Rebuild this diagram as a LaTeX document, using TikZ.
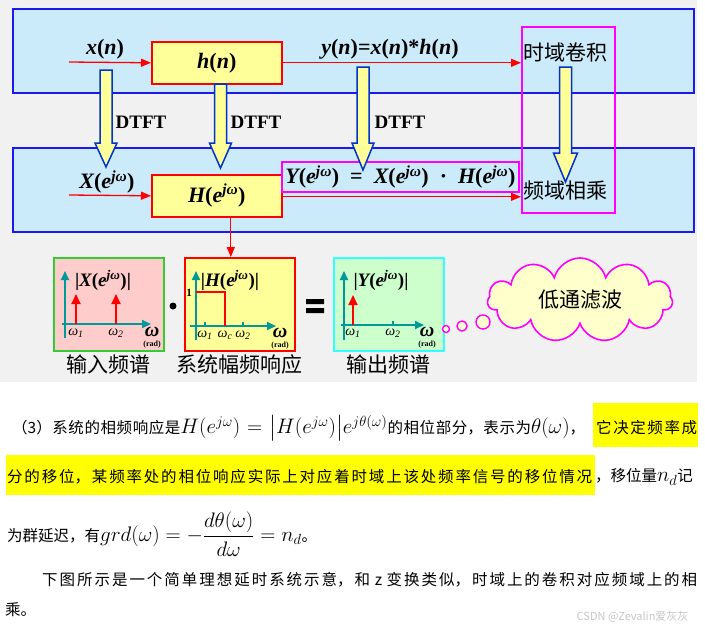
\RequirePackage{fix-cm}
\documentclass[tikz,border=0pt]{standalone}
\usepackage{amsmath}
\usepackage{fontspec}
\setmainfont{Liberation Serif}
\newfontfamily\cjk{Noto Sans CJK SC}
\usetikzlibrary{arrows.meta,shapes.symbols,positioning}
\XeTeXlinebreaklocale "zh"
\XeTeXlinebreakskip=0pt plus 3pt
\definecolor{bandblue}{HTML}{1A1AF0}
\definecolor{bandfill}{HTML}{CCEBFA}
\definecolor{boxyellow}{HTML}{FFFF99}
\definecolor{magbox}{HTML}{FF00FF}
\definecolor{axteal}{HTML}{009999}
\definecolor{inpink}{HTML}{FFCCCC}
\definecolor{ingreen}{HTML}{33CC33}
\definecolor{outgreen}{HTML}{CCFFCC}
\definecolor{outcyan}{HTML}{33FFFF}
\definecolor{cloudfill}{HTML}{FFFFCC}
\definecolor{arrowblue}{HTML}{0033CC}
\definecolor{hiyellow}{HTML}{FFFF00}
\definecolor{bggray}{HTML}{F1F1F1}
\newcommand{\bi}[1]{{\bfseries\itshape #1}}
\newcommand{\ejw}{\bi{e}\textsuperscript{\bi{jω}}}
\newcommand{\eqsz}{\fontsize{21}{24}\selectfont}
% x, top, head start, tip, head half width
\newcommand{\fatarrow}[5]{%
  \draw[fatarr] (#1-6,#2) -- (#1+6,#2) -- (#1+6,#3) -- (#1+#5,#3) -- (#1,#4)
    -- (#1-#5,#3) -- (#1-6,#3) -- cycle;}
\tikzset{
  band/.style={draw=bandblue, fill=bandfill, line width=2.4pt, minimum width=681, minimum height=84, anchor=north west},
  sysbox/.style={draw=red, fill=boxyellow, line width=1.6pt, minimum width=130, minimum height=42, anchor=north west, font=\fontsize{22}{26}\selectfont\bfseries},
  sig/.style={red, line width=1.3pt, -{Triangle[length=10pt,width=8pt]}},
  lbl/.style={font=\fontsize{22}{26}\selectfont\bfseries},
  dtft/.style={font=\fontsize{19}{22}\selectfont\bfseries},
  cjklbl/.style={font=\fontsize{21}{24}\selectfont\cjk, inner sep=1pt},
  fatarr/.style={draw=arrowblue, fill=boxyellow, line width=1.5pt},
  magframe/.style={draw=magbox, line width=1.8pt},
  plotbox/.style={line width=1.8pt, minimum width=110, minimum height=93, anchor=north west},
  axis/.style={axteal, line width=2pt, -{Triangle[length=9pt,width=8pt]}},
  imp/.style={red, line width=1.8pt, -{Triangle[length=10pt,width=9pt]}},
  plab/.style={font=\fontsize{19}{21}\selectfont\bfseries},
  wlab/.style={font=\fontsize{14}{16}\selectfont\itshape, inner sep=0},
  bubble/.style={circle, draw=magbox, fill=cloudfill, line width=1.4pt, inner sep=0},
  para/.style={font=\fontsize{15.5}{18}\selectfont\cjk, inner sep=0, anchor=west},
}
\begin{document}
\begin{tikzpicture}[x=1pt,y=-1pt]
  \useasboundingbox (0,0) rectangle (705,630);
  \fill[bggray] (0,0) rectangle (697,382);
  % bands
  \node[band] (tband) at (12,8) {};
  \node[band] (fband) at (12,147) {};
  % time domain
  \node[sysbox] (hsys) at (151,41) {\bi{h}(\bi{n})};
  \node[magframe, minimum width=93, minimum height=186, anchor=north west] (conv) at (521,26) {};
  \coordinate (xin) at (69,62);
  \draw[sig] (xin) -- (hsys.west);
  \draw[sig] (hsys.east) -- (hsys.east -| conv.west);
  \node[lbl] (xlab) at (105,49) {\bi{x}(\bi{n})};
  \node[lbl] (ylab) at (390,49) {\bi{y}(\bi{n})=\bi{x}(\bi{n})*\bi{h}(\bi{n})};
  % frequency domain
  \node[sysbox] (Hfreq) at (151,174) {\bi{H}(\ejw)};
  \node[magframe, fill=bandfill, minimum width=231, minimum height=30,
    font=\fontsize{22}{24}\selectfont\bfseries] (ybox) at (400.5,177)
    {\bi{Y}(\ejw)\enspace=\enspace\bi{X}(\ejw)\enspace·\enspace\bi{H}(\ejw)};
  \coordinate (Xin) at (69,195);
  \draw[sig] (Xin) -- (Hfreq.west);
  \draw[sig] ([yshift=-1pt]Hfreq.east) -- ([yshift=-1pt]Hfreq.east -| conv.west);
  \node[lbl] (Xlab) at (107,182) {\bi{X}(\ejw)};
  % DTFT arrows
  \fatarrow{106}{70}{143}{167}{11}
  \fatarrow{220.5}{84}{143}{168}{11}
  \fatarrow{363}{67}{143}{170}{11}
  \fatarrow{565.5}{67}{153}{182}{12}
  \node[dtft] (d1) at (141,122) {DTFT};
  \node[dtft] (d2) at (256,122) {DTFT};
  \node[dtft] (d3) at (400,122) {DTFT};
  \node[cjklbl] (tconv) at (565,52) {时域卷积};
  \node[cjklbl] (fmul) at (565,191) {频域相乘};
  % spectra
  \node[plotbox, draw=ingreen, fill=inpink] (xspec) at (53,257) {};
  \node[plotbox, draw=red, fill=boxyellow] (hresp) at (184,257) {};
  \node[plotbox, draw=outcyan, fill=outgreen] (yspec) at (333,257) {};
  \draw[sig] ([xshift=14pt]Hfreq.south) -- ([xshift=14pt]Hfreq.south |- hresp.north);
  \begin{scope}[shift={(xspec.north west)}]
    \draw[axis] (12,81) -- (12,14);
    \draw[axis] (9,67) -- (98,67);
    \draw[imp] (23,67) -- (23,37);
    \draw[imp] (63,67) -- (63,37);
    \node[plab] at (50,23) {|\bi{X}(\ejw)|};
    \node[wlab] at (23,76) {ω\textsubscript{1}};
    \node[wlab] at (63,76) {ω\textsubscript{2}};
    \node[font=\fontsize{20}{20}\selectfont\bfseries\itshape, inner sep=0] at (99,75) {ω};
    \node[font=\fontsize{8}{8}\selectfont\bfseries, inner sep=0] at (99,88) {(rad)};
  \end{scope}
  \begin{scope}[shift={(hresp.north west)}]
    \draw[axis] (12,83) -- (12,14);
    \draw[axis] (6,69) -- (92,69);
    \draw[axteal, line width=1.5pt] (21,69) -- (21,65) (59,69) -- (59,65);
    \draw[red, line width=1.8pt] (12,35) -- (41,35) -- (41,69);
    \node[font=\fontsize{11}{12}\selectfont\bfseries, inner sep=0] at (5,36) {1};
    \node[plab] at (46,23) {|\bi{H}(\ejw)|};
    \node[wlab] at (21,78) {ω\textsubscript{1}};
    \node[wlab] at (41,78) {ω\textsubscript{c}};
    \node[wlab] at (59,78) {ω\textsubscript{2}};
    \node[font=\fontsize{20}{20}\selectfont\bfseries\itshape, inner sep=0] at (96,76) {ω};
    \node[font=\fontsize{8}{8}\selectfont\bfseries, inner sep=0] at (96,89) {(rad)};
  \end{scope}
  \begin{scope}[shift={(yspec.north west)}]
    \draw[axis] (11,83) -- (11,14);
    \draw[axis] (8,68) -- (91,68);
    \draw[axteal, line width=1.5pt] (60,68) -- (60,64);
    \draw[imp] (20,68) -- (20,38);
    \node[plab] at (48,23) {|\bi{Y}(\ejw)|};
    \node[wlab] at (20,76) {ω\textsubscript{1}};
    \node[wlab] at (60,76) {ω\textsubscript{2}};
    \node[font=\fontsize{20}{20}\selectfont\bfseries\itshape, inner sep=0] at (94,75) {ω};
    \node[font=\fontsize{8}{8}\selectfont\bfseries, inner sep=0] at (94,88) {(rad)};
  \end{scope}
  \node[circle, fill=black, inner sep=0, minimum size=7] (mul) at (173,306) {};
  \fill (306,299) rectangle (324,304) (306,308) rectangle (324,313);
  \node[cjklbl, below=2pt of xspec] (xname) {输入频谱};
  \node[cjklbl, below=2pt of hresp] (hname) {系统幅频响应};
  \node[cjklbl, below=2pt of yspec] (yname) {输出频谱};
  % thought cloud
  \node[bubble, minimum size=7] (b1) at (446,329) {};
  \node[bubble, minimum size=10] (b2) at (462,326) {};
  \node[bubble, minimum size=14] (b3) at (483,322) {};
  \node[cloud, cloud puffs=11, aspect=2.2, draw=magbox, fill=cloudfill, line width=1.6pt,
    minimum width=185, minimum height=84, font=\fontsize{21}{24}\selectfont\cjk] (lowpass) at (580,300) {低通滤波};
  % text below
  \fill[hiyellow] (593,403) rectangle (698,447);
  \fill[hiyellow] (6,455) rectangle (595,495);
  \node[para, text width=573, align=justify] (l1a) at (12,428)
    {\noindent\parfillskip=0pt （3）系统的相频响应是{\eqsz$H(e^{j\omega})=\bigl|H(e^{j\omega})\bigr|e^{j\theta(\omega)}$}的相位部分，表示为{\eqsz$\theta(\omega)$}，\par};
  \node[para, text width=101, align=justify] (l1b) at (596,428)
    {\noindent\parfillskip=0pt 它决定频率成\par};
  \node[para, text width=585, align=justify] (l2a) at (7,477)
    {\noindent\parfillskip=0pt 分的移位，某频率处的相位响应实际上对应着时域上该处频率信号的移位情况\par};
  \node[para] (l2b) at (595,477) {，移位量{\eqsz$n_d$}记};
  \node[para] (l3) at (7,534) {为群延迟，有{\eqsz$grd(\omega)=-\dfrac{d\theta(\omega)}{d\omega}=n_d$}。};
  \node[para, text width=655, align=justify] (l4) at (42,580)
    {\noindent\parfillskip=0pt 下图所示是一个简单理想延时系统示意，和 z 变换类似，时域上的卷积对应频域上的相\par};
  \node[para] (l5) at (5,610) {乘。};
  \node[font=\fontsize{11}{12}\selectfont\cjk, text=gray!45, anchor=east] (mark) at (692,617) {CSDN @Zevalin爱灰灰};
\end{tikzpicture}
\end{document}
